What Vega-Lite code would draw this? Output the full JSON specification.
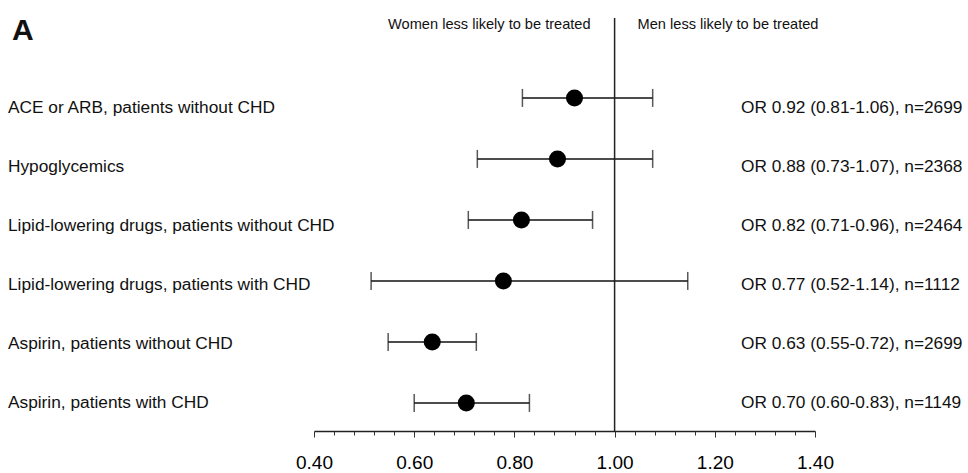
{
  "$schema": "https://vega.github.io/schema/vega-lite/v6.json",
  "width": 501,
  "height": 413,
  "autosize": {"type": "none"},
  "padding": {"left": 314, "top": 18, "right": 153, "bottom": 42},
  "background": "white",
  "config": {
    "view": {"stroke": null},
    "font": "Liberation Sans, Arial, sans-serif",
    "text": {"font": "Liberation Sans, Arial, sans-serif", "color": "#111"},
    "axis": {"labelOverlap": false}
  },
  "data": {
    "values": [
      {"row": 1, "label": "ACE or ARB, patients without CHD", "or": 0.92, "lo": 0.816, "hi": 1.076, "stat": "OR 0.92 (0.81-1.06), n=2699"},
      {"row": 2, "label": "Hypoglycemics", "or": 0.886, "lo": 0.726, "hi": 1.076, "stat": "OR 0.88 (0.73-1.07), n=2368"},
      {"row": 3, "label": "Lipid-lowering drugs, patients without CHD", "or": 0.814, "lo": 0.708, "hi": 0.956, "stat": "OR 0.82 (0.71-0.96), n=2464"},
      {"row": 4, "label": "Lipid-lowering drugs, patients with CHD", "or": 0.778, "lo": 0.514, "hi": 1.146, "stat": "OR 0.77 (0.52-1.14), n=1112"},
      {"row": 5, "label": "Aspirin, patients without CHD", "or": 0.636, "lo": 0.548, "hi": 0.724, "stat": "OR 0.63 (0.55-0.72), n=2699"},
      {"row": 6, "label": "Aspirin, patients with CHD", "or": 0.704, "lo": 0.6, "hi": 0.83, "stat": "OR 0.70 (0.60-0.83), n=1149"}
    ]
  },
  "resolve": {"scale": {"y": "independent"}},
  "layer": [
    {
      "mark": {"type": "rule", "color": "#111", "strokeWidth": 1.5},
      "encoding": {
        "x": {
          "field": "lo", "type": "quantitative",
          "scale": {"domain": [0.4, 1.4], "nice": false, "zero": false},
          "axis": {
            "values": [0.40,0.44,0.48,0.52,0.56,0.60,0.64,0.68,0.72,0.76,0.80,0.84,0.88,0.92,0.96,1.00,1.04,1.08,1.12,1.16,1.20,1.24,1.28,1.32,1.36,1.40],
            "tickCount": 100,
            "labelExpr": "abs(datum.value*5 - round(datum.value*5)) < 0.001 ? format(datum.value, '.2f') : ''",
            "tickSize": {"condition": {"test": "abs(datum.value*5 - round(datum.value*5)) < 0.001", "value": 6}, "value": 4},
            "title": null,
            "grid": false,
            "domainColor": "#222",
            "domainWidth": 1.5,
            "tickColor": "#333",
            "tickWidth": 1,
            "labelFontSize": 19,
            "labelColor": "#000",
            "labelPadding": 16,
            "labelOverlap": false,
            "labelFlush": false,
            "labelBound": false
          }
        },
        "x2": {"field": "hi"},
        "y": {"field": "row", "type": "quantitative", "scale": {"domain": [-0.31, 6.46], "reverse": true, "nice": false, "zero": false}, "axis": null}
      }
    },
    {
      "data": {"values": [{}]},
      "mark": {"type": "rule", "color": "#222", "strokeWidth": 1.5},
      "encoding": {"x": {"datum": 1.0, "type": "quantitative"}}
    },
    {
      "mark": {"type": "tick", "orient": "vertical", "color": "#111", "size": 18, "thickness": 1.5},
      "encoding": {
        "x": {"field": "lo", "type": "quantitative"},
        "y": {"field": "row", "type": "quantitative", "scale": {"domain": [-0.31, 6.46], "reverse": true, "nice": false, "zero": false}, "axis": null}
      }
    },
    {
      "mark": {"type": "tick", "orient": "vertical", "color": "#111", "size": 18, "thickness": 1.5},
      "encoding": {
        "x": {"field": "hi", "type": "quantitative"},
        "y": {"field": "row", "type": "quantitative", "scale": {"domain": [-0.31, 6.46], "reverse": true, "nice": false, "zero": false}, "axis": null}
      }
    },
    {
      "mark": {"type": "point", "shape": "circle", "filled": true, "color": "#000", "size": 290, "opacity": 1},
      "encoding": {
        "x": {"field": "or", "type": "quantitative"},
        "y": {"field": "row", "type": "quantitative", "scale": {"domain": [-0.31, 6.46], "reverse": true, "nice": false, "zero": false}, "axis": null}
      }
    },
    {
      "mark": {"type": "text", "align": "left", "baseline": "middle", "fontSize": 17.3},
      "encoding": {
        "x": {"datum": -0.2108, "type": "quantitative"},
        "y": {"field": "row", "type": "quantitative", "scale": {"domain": [-0.53, 6.47], "reverse": true, "nice": false, "zero": false}, "axis": null},
        "text": {"field": "label"}
      }
    },
    {
      "mark": {"type": "text", "align": "left", "baseline": "middle", "fontSize": 17.3},
      "encoding": {
        "x": {"datum": 1.2523, "type": "quantitative"},
        "y": {"field": "row", "type": "quantitative", "scale": {"domain": [-0.53, 6.47], "reverse": true, "nice": false, "zero": false}, "axis": null},
        "text": {"field": "stat"}
      }
    },
    {
      "data": {"values": [{}]},
      "mark": {"type": "text", "align": "right", "baseline": "middle", "fontSize": 14.6, "dx": -24},
      "encoding": {
        "x": {"datum": 1.0, "type": "quantitative"},
        "y": {"datum": -0.197, "type": "quantitative", "scale": {"domain": [-0.31, 6.46], "reverse": true, "nice": false, "zero": false}, "axis": null},
        "text": {"value": "Women less likely to be treated"}
      }
    },
    {
      "data": {"values": [{}]},
      "mark": {"type": "text", "align": "left", "baseline": "middle", "fontSize": 14.6, "dx": 23},
      "encoding": {
        "x": {"datum": 1.0, "type": "quantitative"},
        "y": {"datum": -0.197, "type": "quantitative", "scale": {"domain": [-0.31, 6.46], "reverse": true, "nice": false, "zero": false}, "axis": null},
        "text": {"value": "Men less likely to be treated"}
      }
    },
    {
      "data": {"values": [{}]},
      "mark": {"type": "text", "align": "left", "baseline": "middle", "fontSize": 30, "fontWeight": "bold"},
      "encoding": {
        "x": {"datum": -0.2028, "type": "quantitative"},
        "y": {"datum": -0.098, "type": "quantitative", "scale": {"domain": [-0.31, 6.46], "reverse": true, "nice": false, "zero": false}, "axis": null},
        "text": {"value": "A"}
      }
    }
  ]
}
